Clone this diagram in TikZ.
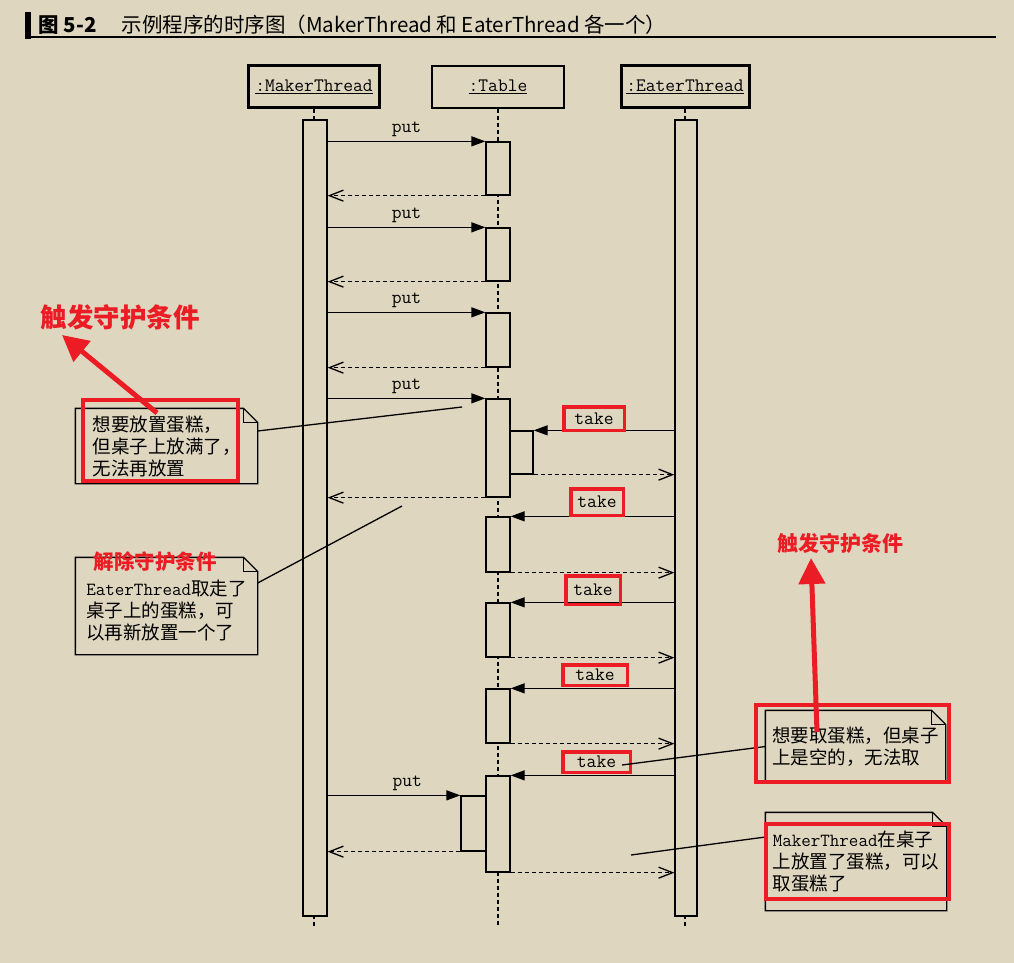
\documentclass[tikz,border=0pt]{standalone}
\usepackage{fontspec}
\setmainfont{Noto Sans CJK SC}
\usetikzlibrary{arrows.meta,positioning,calc}
\definecolor{paper}{RGB}{222,214,191}
\definecolor{markred}{RGB}{236,28,36}
\newcommand{\dogear}[1]{%
  \draw (#1.north west) -- ([xshift=-14pt]#1.north east) -- ([yshift=-14pt]#1.north east)
        -- (#1.south east) -- (#1.south west) -- cycle;
  \draw ([xshift=-14pt]#1.north east) |- ([yshift=-14pt]#1.north east);}

\begin{document}
\begin{tikzpicture}[x=1pt,y=-1pt,line width=1.3pt,
  head/.style={draw,fill=paper,minimum height=42,inner sep=0,font=\ttfamily\fontsize{19}{19}\selectfont},
  bar/.style={draw,fill=paper,inner sep=0,minimum width=24},
  act/.style={draw,fill=paper,inner sep=0,minimum width=24},
  lifeline/.style={dash pattern=on 4pt off 3pt},
  call/.style={-{Triangle[length=14pt,width=10pt]}},
  ret/.style={dash pattern=on 4pt off 3pt,-{Straight Barb[length=14pt,width=11pt]}},
  msg/.style={font=\ttfamily\fontsize{19}{19}\selectfont,inner sep=1pt},
  takelbl/.style={msg,draw=markred,line width=3.5pt,inner sep=0},
  note/.style={fill=paper,align=left,inner sep=0,font=\fontsize{18.5}{22}\selectfont},
  hint/.style={text=markred,inner sep=0},
  redframe/.style={draw=markred,line width=3.5pt},
  redarrow/.style={markred,line width=5pt,-{Triangle[length=26pt,width=26pt]}}]
\fill[paper] (0,0) rectangle (1014,963);
\useasboundingbox (0,0) rectangle (1014,963);

% title
\fill (25,12) rectangle (31,39);
\node[anchor=west,inner sep=0,font=\bfseries\fontsize{20.5}{20.5}\selectfont] (fignum) at (38,25) {图 5-2};
\node[anchor=west,inner sep=0,font=\fontsize{20.5}{20.5}\selectfont] (caption) at (121,25) {示例程序的时序图（MakerThread 和 EaterThread 各一个）};
\draw[line width=2pt] (27,37.5) -- (996,37.5);

% objects and lifelines
\node[head,line width=3pt,minimum width=131] (maker) at (314,87) {\underline{:MakerThread}};
\node[head,minimum width=132] (table) at (498,87) {\underline{:Table}};
\node[head,line width=3pt,minimum width=128] (eater) at (685,87) {\underline{:EaterThread}};
\coordinate (bottom) at (0,927);
\draw[lifeline] (maker) -- (maker |- bottom);
\draw[lifeline] (table) -- (table |- bottom);
\draw[lifeline] (eater) -- (eater |- bottom);
\node[bar,minimum height=796] (mkbar) at (315,518) {};
\node[bar,minimum width=22,minimum height=796] (eabar) at (686,518) {};

% activations on the table
\node[act,minimum height=53] (t1) at (498,168.5) {};
\node[act,minimum height=53] (t2) at (498,254.5) {};
\node[act,minimum height=54] (t3) at (498,340) {};
\node[act,minimum height=98] (t4) at (498,448) {};
\node[act,minimum width=23,minimum height=43] (t4n) at (521.5,452.5) {};
\node[act,minimum height=55] (t5) at (498,544.5) {};
\node[act,minimum height=54] (t6) at (498,630) {};
\node[act,minimum height=54] (t7) at (498,716) {};
\node[act,minimum height=96] (t8) at (498,824) {};
\node[act,minimum width=25,minimum height=55] (t8n) at (473.5,823.5) {};

% put
\draw[call] (mkbar.east |- t1.north) -- node[msg,above=3pt] (put1) {put} (t1.north west);
\draw[ret] (t1.south west) -- (mkbar.east |- t1.south);
\draw[call] (mkbar.east |- t2.north) -- node[msg,above=3pt] (put2) {put} (t2.north west);
\draw[ret] (t2.south west) -- (mkbar.east |- t2.south);
\draw[call] (mkbar.east |- t3.north) -- node[msg,above=3pt] (put3) {put} (t3.north west);
\draw[ret] (t3.south west) -- (mkbar.east |- t3.south);
\draw[call] (mkbar.east |- t4.north) -- node[msg,above=3pt] (put4) {put} (t4.north west);
\draw[ret] (t4.south west) -- (mkbar.east |- t4.south);
\draw[call] (mkbar.east |- t8n.north) -- node[msg,above=3pt,pos=0.6] (put5) {put} (t8n.north west);
\draw[ret] (t8n.south west) -- (mkbar.east |- t8n.south);

% take
\draw[call] (eabar.west |- t4n.north) -- (t4n.north east);
\draw[ret] (t4n.south east) -- (eabar.west |- t4n.south);
\draw[call] (eabar.west |- t5.north) -- (t5.north east);
\draw[ret] (t5.south east) -- (eabar.west |- t5.south);
\draw[call] (eabar.west |- t6.north) -- (t6.north east);
\draw[ret] (t6.south east) -- (eabar.west |- t6.south);
\draw[call] (eabar.west |- t7.north) -- (t7.north east);
\draw[ret] (t7.south east) -- (eabar.west |- t7.south);
\draw[call] (eabar.west |- t8.north) -- (t8.north east);
\draw[ret] (t8.south east) -- (eabar.west |- t8.south);
\node[takelbl,minimum width=60.5,minimum height=23.5] (take1) at (594,418.5) {take};
\node[takelbl,minimum width=52.5,minimum height=26.5] (take2) at (597,502) {take};
\node[takelbl,minimum width=54.5,minimum height=28.5] (take3) at (593,590) {take};
\node[takelbl,minimum width=64.5,minimum height=20.5] (take4) at (595,675) {take};
\node[takelbl,minimum width=67.5,minimum height=20.5] (take5) at (596.5,762) {take};

% notes
\node[note,minimum width=181,minimum height=74] (n1) at (166.5,446) {想要放置蛋糕，\\但桌子上放满了，\\无法再放置};
\dogear{n1}
\node[note,minimum width=181,minimum height=96] (n2) at (166.5,606) {\rule{0pt}{24pt}{\ttfamily EaterThread}取走了\\桌子上的蛋糕，可\\以再新放置一个了};
\dogear{n2}
\node[note,minimum width=179,minimum height=71] (n3) at (855.5,746.5) {想要取蛋糕，但桌子\\上是空的，无法取};
\dogear{n3}
\node[note,minimum width=180,minimum height=97] (n4) at (856,861.5) {{\ttfamily MakerThread}在桌子\\上放置了蛋糕，可以\\取蛋糕了};
\dogear{n4}
\coordinate (c1) at (462,407);
\coordinate (c2) at (402,506);
\coordinate (c3) at (622,765);
\coordinate (c4) at (631,855);
\draw ([yshift=15pt]n1.east) -- (c1);
\draw ([yshift=23pt]n2.east) -- (c2);
\draw (n3.west) -- (c3);
\draw ([yshift=24.5pt]n4.west) -- (c4);

% red marks
\node[hint,font=\bfseries\fontsize{26.5}{26.5}\selectfont] (hint1) at (120,317) {触发守护条件};
\node[hint,font=\bfseries\fontsize{20.5}{20.5}\selectfont] (hint2) at (155,562) {解除守护条件};
\node[hint,font=\bfseries\fontsize{21}{21}\selectfont] (hint3) at (840,543) {触发守护条件};
\draw[redframe] (83,400) rectangle (238,481);
\draw[redframe] (756,705) rectangle (949,782);
\draw[redframe] (766,824) rectangle (949,899);
\coordinate (a1) at (157,413);
\coordinate (a1tip) at (62,335);
\coordinate (a2) at (817,732);
\coordinate (a2tip) at (811,558);
\draw[redarrow] (a1) -- (a1tip);
\draw[redarrow] (a2) -- (a2tip);
\end{tikzpicture}
\end{document}
